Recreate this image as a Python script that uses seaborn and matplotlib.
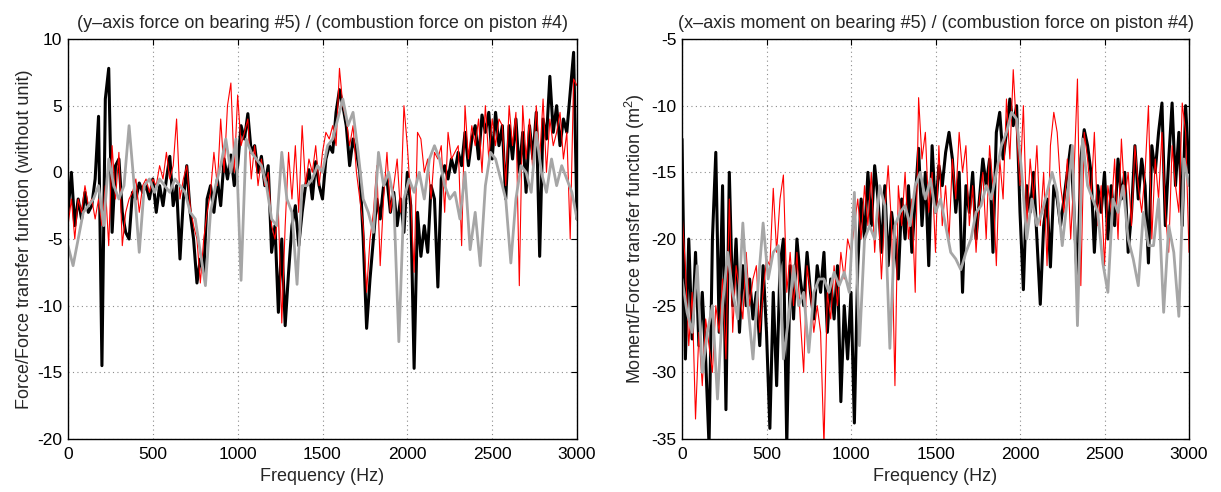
import numpy as np
import pandas as pd
import matplotlib
matplotlib.use("Agg")
import matplotlib.pyplot as plt
import seaborn as sns

# ---------------- data ----------------
freq_fine = list(range(0, 3001, 20))    # black / red series
freq_coarse = list(range(0, 3001, 30))  # gray series

left_black = [
    -3, 0, -4, -2, -3.5, -1.5, -3, -2.5, -0.5, 4.2,
    -14.5, 5.5, 7.8, -4.5, 0.5, 1, -3, -4.5, -5, -1.5,
    -2, -0.8, -1.5, -1, -2, -0.5, -3, -1, -2.5, -0.5,
    1.2, -2.5, -1, -6.5, -2, 0.5, -3, -5, -8.3, -6.5,
    -7.5, -2, -1, -3, -0.5, -2.5, 1, -0.5, 1.3, -1,
    0.5, 3.5, 2.5, 4.4, 1.5, 2, 0, 1.2, -1, 0.5,
    -6, -4, -10.5, -5, -11.5, -7.5, -4, -2.5, -5.5, -3,
    -1, 0.2, -2, 0.8, -1, -2, 1, 2, 1.5, 4.5,
    6.2, 5, 3.5, 0.5, 2.5, 1.5, 0, -5, -11.7, -8,
    -5, -2, -3.5, -1, -0.5, -3, -1.5, -4, -2, -4.5,
    0, -2.5, -14.7, -3, -6.3, -4, -6, -1, -2, -8.6,
    -0.5, 0.5, -0.5, 1, 0, 1.5, 0.5, 3, 0.5, 2.5,
    3.5, 1, 4.3, 3, 4.5, 1, 4.5, 2, 3.5, -2,
    3.5, 1, 4, 0, 3, -1.5, 3.5, 1, 4.5, -6.3,
    4, 2.5, 7.2, 3, 5, 2, 4, 3, 6, 9,
    -3.5,
]

left_red = [
    -4, -2, -5, -2, -3, -1, -2.5, -2, -3.5, -2,
    -4, -1, -5.5, 2, -2, 1.5, -5.5, -3, -2, -1.5,
    -0.5, -3, -1, -0.5, -1.5, -0.5, -1, 0.5, -0.5, 1.5,
    -0.5, 0.5, 4, -2, -0.5, 0.5, -2.5, -4, -5, -8.3,
    -5, -3, -1.5, 1.5, -1, 4, 0, 5, 6.7, 0,
    5.8, 2, 3, 4, -0.5, 2, -1, 1, -1, 0,
    -4, -5, -3, -11.3, -4, 1.5, -2, 2, -3, 3.5,
    -1, 1, 0, 2, -1, 1.5, 3, 2.5, 3.5, 2,
    7.8, 5, 4, 2, 3.5, 0, -2, -4, -9, -5,
    -3, 0.5, -7, -2, 1.5, -3, -1, 1, -3, 5,
    2, -2, -7.5, 3, 2.5, 0, 1, -2, 1.5, 1,
    2, -3, 3, 1, 1.5, 2, -5.5, 5, 1, 3.5,
    2, 4, 0, 5, 1, 4, 2, 4, 3.5, -1,
    5, 2, 4.5, -8.5, 5, 1, 4, 0, 5, 1,
    5.5, 0, 4, 2, 3, 4.5, 1, 3, -5, 7,
    6.5,
]

left_gray = [
    -5.5, -7, -5, -3, -2.5, -2, -1, -4, 1, -1,
    -2, -1, 3.5, -1, -6, -1, -0.5, -1.5, -0.5, -1,
    -1.5, -0.5, -1, -1.5, -3, -3.5, -6, -8.5, -3, -1,
    0.5, 2.5, 0, 2.5, -8.1, 2.5, 1.5, 1, 0.5, -1,
    -3.5, -4, 1.5, -2, -3, -8.4, -1, -1, -0.5, 0.5,
    0, 2, 2.5, 4, 5.5, 3.5, 4.5, 1.5, -2, -3,
    -4.5, 1.5, -1, 0, -2, -12.7, -2, -0.5, -1.5, 0,
    -2, 1, 2, 1, -1, -2, -1.5, -3.5, 0, -5.8,
    -3, -7, -1, 1.5, 1, -0.5, -2, -6.8, -2, 0.5,
    0, -1.5, 3, 0, -1.5, 1, -1, 0.5, -0.5, -1.5,
    -3.5,
]

right_black = [
    -12.5, -29, -20, -27.5, -21, -28, -24, -29, -35.5, -20,
    -13.5, -27, -16, -32.8, -15, -25, -20, -27, -22, -25,
    -23, -26, -24, -28, -22, -27, -34.2, -24, -31, -22,
    -20, -35.5, -22, -26, -20, -23, -25, -21, -24, -26,
    -22, -24, -21, -27, -23, -26, -22, -32.2, -25, -29,
    -24, -33.8, -22, -17, -20, -15, -19, -14.5, -17, -21,
    -16, -22, -18, -20, -23, -17, -20, -16, -21, -17,
    -13.2, -19, -15, -22, -13, -18, -14.5, -16, -13.5, -12,
    -14, -18, -15, -24, -16, -18, -15, -20, -17, -14,
    -16, -14, -21, -12, -10.5, -14, -12, -9.5, -11.5, -10,
    -18, -23.8, -16, -18, -15, -20, -24.9, -19, -17, -22.1,
    -16, -17, -19, -17, -15, -13, -18, -23.5, -14, -11.8,
    -13, -15, -21, -16, -18, -15, -20, -16, -19, -14,
    -17, -15, -21, -18, -13, -17, -14, -16, -21.8, -13,
    -15, -12, -9.8, -19, -14, -9.8, -16, -12, -19, -10,
    -15,
]

right_red = [
    -18, -22, -28, -24, -33.5, -27, -31, -26, -28, -30,
    -25, -27, -23, -29, -17, -27, -22, -24, -26, -21,
    -25, -23, -22, -27, -24, -21.5, -22, -16.2, -21, -17,
    -15.2, -24, -21, -25, -21, -26, -30, -22, -24, -27,
    -25, -27, -35.5, -24, -26, -22, -25, -21, -23, -20,
    -21, -19, -17, -20, -16, -19, -15, -21, -17, -23,
    -18, -14.5, -19, -31, -16, -19, -15, -20, -17, -24,
    -9.4, -14, -12, -18, -15, -21, -13, -19, -16, -20,
    -14, -17, -12, -15, -13, -19, -16, -21, -17, -15,
    -20, -13, -16, -22, -14, -17, -9.5, -14, -7.3, -12,
    -16, -10, -19, -14, -17, -13, -19, -15, -22, -13,
    -10.5, -12, -16, -18, -14, -20, -15, -8, -23.5, -12,
    -14, -17, -12, -19, -16, -22, -16, -18, -14, -20,
    -12.5, -17, -15, -19, -13, -16, -18, -15, -10, -20,
    -14, -17, -12, -18, -21, -13, -16, -18, -9.8, -12,
    -21,
]

right_gray = [
    -23, -25.5, -27, -22, -30, -27, -25, -32, -25, -21,
    -24, -26, -18.8, -25, -29, -23.5, -18.8, -23, -21, -20.5,
    -29, -26, -22, -25, -24, -28.5, -24, -23, -23, -24,
    -22.5, -23.5, -22.5, -24, -16.5, -28, -20, -19, -20, -16,
    -17.5, -28.2, -19, -18, -17.5, -19, -16, -15, -17, -15.5,
    -18, -17, -19, -21, -21.5, -22.3, -21, -20, -18, -17.5,
    -16, -17, -15, -13, -12, -10.5, -11, -15, -20, -17,
    -19, -18, -16.5, -15, -16.5, -20.5, -17, -13, -26.5, -12.5,
    -16, -17, -18, -21.8, -24, -17, -18, -16, -20, -21.5,
    -23.5, -18, -20.5, -20.5, -17, -25.5, -19, -21, -25.8, -14,
    -16,
]

left_title = "(y–axis force on bearing #5) / (combustion force on piston #4)"
right_title = "(x–axis moment on bearing #5) / (combustion force on piston #4)"
left_ylabel = "Force/Force transfer function (without unit)"
right_ylabel = "Moment/Force transfer function (m$^2$)"
xlabel = "Frequency (Hz)"
x_ticks = [0, 500, 1000, 1500, 2000, 2500, 3000]
left_yticks = [-20, -15, -10, -5, 0, 5, 10]
right_yticks = [-35, -30, -25, -20, -15, -10, -5]

# ---------------- style ----------------
sns.set_style("white")
plt.rcParams["font.family"] = ["Liberation Sans", "DejaVu Sans"]
plt.rcParams["axes.unicode_minus"] = False
plt.rcParams["mathtext.fontset"] = "custom"
plt.rcParams["mathtext.rm"] = "Liberation Sans"

fig = plt.figure(figsize=(12.21, 4.92), dpi=100)
axL = fig.add_axes([68 / 1221, 1 - 439 / 492, (577 - 68) / 1221, 400 / 492])
axR = fig.add_axes([682 / 1221, 1 - 439 / 492, (1189 - 682) / 1221, 400 / 492])


def draw(ax, black, red, gray, yticks, title, ylabel):
    dfb = pd.DataFrame({"f": freq_fine, "v": black})
    dfr = pd.DataFrame({"f": freq_fine, "v": red})
    dfg = pd.DataFrame({"f": freq_coarse, "v": gray})
    sns.lineplot(data=dfb, x="f", y="v", ax=ax, color="black", lw=2.2, estimator=None)
    sns.lineplot(data=dfr, x="f", y="v", ax=ax, color="#ff0000", lw=0.8, estimator=None)
    sns.lineplot(data=dfg, x="f", y="v", ax=ax, color="#a6a6a6", lw=2.0, estimator=None)
    ax.set_xlim(0, 3000)
    ax.set_ylim(yticks[0], yticks[-1])
    ax.set_xticks(x_ticks)
    ax.set_yticks(yticks)
    ax.set_xticklabels([str(t) for t in x_ticks])
    ax.set_yticklabels([str(t) for t in yticks])
    ax.grid(True, color="#8c8c8c", linestyle=(0, (1, 3)), lw=0.8)
    ax.tick_params(direction="in", length=4, width=0.8, labelsize=12.5,
                   top=True, right=True, colors="black")
    ax.tick_params(axis="x", pad=6)
    ax.tick_params(axis="y", pad=4)
    for s in ax.spines.values():
        s.set_visible(True)
        s.set_color("black")
        s.set_linewidth(1.0)
    ax.set_xlabel(xlabel, fontsize=13, labelpad=4)
    ax.set_ylabel(ylabel, fontsize=13, labelpad=3)
    ax.set_title(title, fontsize=13, pad=8)


draw(axL, left_black, left_red, left_gray, left_yticks, left_title, left_ylabel)
draw(axR, right_black, right_red, right_gray, right_yticks, right_title, right_ylabel)

fig.savefig("out.png", dpi=100)
